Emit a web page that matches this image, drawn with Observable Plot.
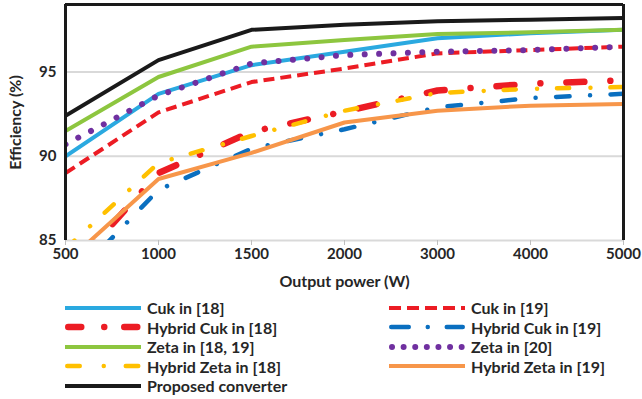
<!DOCTYPE html>
<html>
<head>
<meta charset="utf-8">
<script src="https://cdn.jsdelivr.net/npm/d3@7"></script>
<script src="https://cdn.jsdelivr.net/npm/@observablehq/plot@0.6"></script>
<style>
  html, body { margin: 0; padding: 0; background: #fff; }
  #wrap { position: relative; width: 642px; height: 399px; overflow: hidden; font-family: Lato, "Open Sans", sans-serif; }
  #chart svg { display: block; }
  #chart svg g[aria-label="x-axis label"] text, #chart svg g[aria-label="y-axis label"] text { font-size: 16px; }
  #legend { position: absolute; left: 0; top: 298px; width: 642px; font-weight: bold; font-size: 16px; color: #262626; }
  .item { position: absolute; height: 19.5px; display: flex; align-items: center; white-space: nowrap; }
  .item svg { display: block; margin-right: 6px; }
</style>
</head>
<body>
<div id="wrap">
  <div id="chart"></div>
  <div id="legend"></div>
</div>
<script>
const xLabels = ["500", "1000", "1500", "2000", "3000", "4000", "5000"];
const yTicks = [85, 90, 95];
const yDomain = [85, 99];

const seriesNames = [
  "Cuk in [18]", "Cuk in [19]",
  "Hybrid Cuk in [18]", "Hybrid Cuk in [19]",
  "Zeta in [18, 19]", "Zeta in [20]",
  "Hybrid Zeta in [18]", "Hybrid Zeta in [19]",
  "Proposed converter"
];

const cuk18        = [90.0, 93.7, 95.4, 96.2, 97.0, 97.3, 97.5];
const cuk19        = [89.0, 92.6, 94.4, 95.2, 96.1, 96.3, 96.5];
const hybridCuk18  = [82.9, 89.0, 91.45, 92.65, 93.9, 94.3, 94.5];
const hybridCuk19  = [82.3, 88.0, 90.45, 91.6, 92.9, 93.45, 93.7];
const zeta1819     = [91.5, 94.7, 96.5, 96.9, 97.25, 97.35, 97.5];
const zeta20       = [90.7, 93.6, 95.5, 96.0, 96.2, 96.3, 96.5];
const hybridZeta18 = [84.5, 89.6, 91.2, 92.7, 93.75, 94.0, 94.1];
const hybridZeta19 = [83.65, 88.65, 90.2, 92.0, 92.7, 93.0, 93.1];
const proposed     = [92.4, 95.7, 97.5, 97.8, 98.0, 98.1, 98.2];

const seriesValues = [cuk18, cuk19, hybridCuk18, hybridCuk19, zeta1819, zeta20, hybridZeta18, hybridZeta19, proposed];

// styles per series (same order as names); legendDash = pattern used in the legend swatch
const styles = [
  {stroke: "#2AA9E0", strokeWidth: 4, strokeDasharray: null, legendDash: null, strokeLinecap: "butt"},
  {stroke: "#EC1C24", strokeWidth: 4, strokeDasharray: "11,6", legendDash: "12,6", strokeLinecap: "butt"},
  {stroke: "#EC1C24", strokeWidth: 6.5, strokeDasharray: "18,26,0.01,26", legendDash: "13,23,0.01,20", strokeLinecap: "round"},
  {stroke: "#0A6FC0", strokeWidth: 4.5, strokeDasharray: "13.5,20.5,0.01,20.5", legendDash: "17.5,19,0.01,19", strokeLinecap: "round"},
  {stroke: "#8DC63F", strokeWidth: 4, strokeDasharray: null, legendDash: null, strokeLinecap: "butt"},
  {stroke: "#7030A0", strokeWidth: 6, strokeDasharray: "0.01,14.4", legendDash: "0.01,11.6", strokeLinecap: "round"},
  {stroke: "#FFC000", strokeWidth: 4.5, strokeDasharray: "12.2,21.3,0.01,19.9", legendDash: "12.5,24,0.01,22", strokeLinecap: "round"},
  {stroke: "#F7964A", strokeWidth: 4, strokeDasharray: null, legendDash: null, strokeLinecap: "butt"},
  {stroke: "#1A1A1A", strokeWidth: 4, strokeDasharray: null, legendDash: null, strokeLinecap: "butt"}
];

const lineMarks = seriesNames.map((name, k) => {
  const data = xLabels.map((x, i) => ({x, y: seriesValues[k][i], series: name}));
  const s = styles[k];
  const opts = {x: "x", y: "y", stroke: s.stroke, strokeWidth: s.strokeWidth, strokeLinecap: s.strokeLinecap, strokeLinejoin: "round", clip: true};
  if (s.strokeDasharray) opts.strokeDasharray = s.strokeDasharray;
  return Plot.line(data, opts);
});

const chart = Plot.plot({
  width: 642,
  height: 300,
  marginLeft: 65,
  marginRight: 19,
  marginTop: 4,
  marginBottom: 60,
  style: {fontFamily: "Lato, 'Open Sans', sans-serif", fontWeight: "bold", fontSize: "15px", color: "#262626", background: "#fff"},
  x: {type: "point", domain: xLabels, padding: 0, label: null},
  y: {domain: yDomain, label: null},
  marks: [
    Plot.ruleY(yTicks, {stroke: "#D9D9D9", strokeWidth: 2}),
    ...lineMarks,
    Plot.ruleX([xLabels[0], xLabels[xLabels.length - 1]], {stroke: "#1A1A1A", strokeWidth: 3}),
    Plot.ruleY([yDomain[1]], {stroke: "#1A1A1A", strokeWidth: 3}),
    Plot.axisX({tickSize: 5, tickPadding: 3, stroke: "#BFBFBF", fill: "#262626", label: "Output power (W)", labelAnchor: "center", labelOffset: 46, labelArrow: "none"}),
    Plot.axisY({ticks: yTicks, tickSize: 0, tickPadding: 9, fill: "#262626", label: "Efficiency (%)", labelAnchor: "center", labelOffset: 56, labelArrow: "none"})
  ]
});
document.getElementById("chart").appendChild(chart);

// legend (two columns, row-major like the original)
const legend = document.getElementById("legend");
const colLeft = [65, 389];
seriesNames.forEach((name, k) => {
  const col = k % 2, row = Math.floor(k / 2);
  const s = styles[k];
  const item = document.createElement("div");
  item.className = "item";
  item.style.left = colLeft[col] + "px";
  item.style.top = (row * 19.5) + "px";
  const ns = "http://www.w3.org/2000/svg";
  const sw = document.createElementNS(ns, "svg");
  sw.setAttribute("width", 76);
  sw.setAttribute("height", 12);
  const ln = document.createElementNS(ns, "line");
  const pad = s.strokeLinecap === "round" ? s.strokeWidth / 2 : 0;
  ln.setAttribute("x1", pad);
  ln.setAttribute("x2", 76 - pad);
  ln.setAttribute("y1", 6);
  ln.setAttribute("y2", 6);
  ln.setAttribute("stroke", s.stroke);
  ln.setAttribute("stroke-width", s.strokeWidth);
  ln.setAttribute("stroke-linecap", s.strokeLinecap);
  if (s.legendDash) ln.setAttribute("stroke-dasharray", s.legendDash);
  sw.appendChild(ln);
  item.appendChild(sw);
  const t = document.createElement("span");
  t.textContent = name;
  item.appendChild(t);
  legend.appendChild(item);
});
</script>
</body>
</html>
